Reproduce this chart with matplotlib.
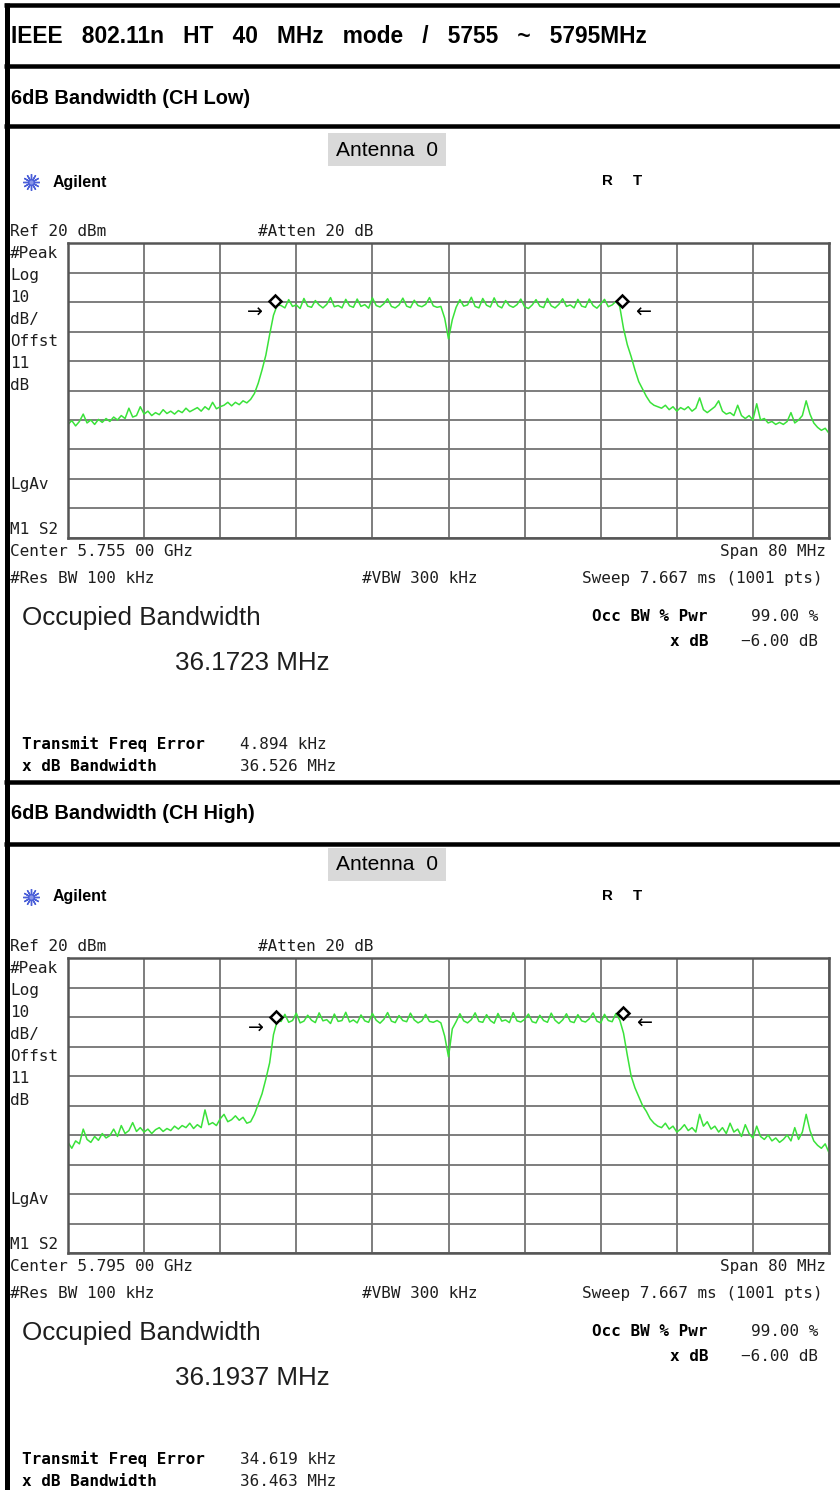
import numpy as np
import matplotlib
matplotlib.use("Agg")
import matplotlib.pyplot as plt
from matplotlib.patches import Rectangle

# ---------------- data ----------------
HEADER = "IEEE   802.11n   HT   40   MHz   mode   /   5755   ~   5795MHz"
SECTION_TITLES = ["6dB Bandwidth (CH Low)", "6dB Bandwidth (CH High)"]
CENTERS_MHZ = [5755.0, 5795.0]
SPAN_MHZ = 80.0
REF_DBM = 20.0
DB_PER_DIV = 10.0
CENTER_LABELS = ["Center 5.755 00 GHz", "Center 5.795 00 GHz"]
OCC_BW = ["36.1723 MHz", "36.1937 MHz"]
FREQ_ERR = ["4.894 kHz", "34.619 kHz"]
XDB_BW = ["36.526 MHz", "36.463 MHz"]

# trace levels (dBm), 201 points across the span
TRACE_LOW = [
    -41.5, -40.2, -42.0, -40.5, -38.0, -41.0, -40.0, -41.5, -39.8, -40.8,
    -39.5, -40.5, -39.0, -40.0, -38.5, -39.5, -36.0, -39.0, -38.5, -35.5,
    -38.0, -37.0, -38.5, -37.5, -38.2, -36.5, -37.8, -37.0, -38.0, -36.8,
    -37.5, -36.0, -37.2, -36.5, -35.8, -37.0, -35.5, -36.5, -34.0, -36.2,
    -35.5, -35.0, -34.0, -35.2, -34.0, -34.8, -33.5, -34.2, -33.0,
    -31.0, -27.5, -23.0, -18.0, -11.0, -4.5, -1.0,
    -1.2, -2.0, 0.8, -1.5, -1.0, -2.2, 1.2, -1.4, -1.8, 0.5,
    -1.0, -2.0, -0.8, 1.5, -1.6, -1.2, -2.0, 0.9, -1.3, -1.8,
    1.0, -1.5, -0.9, -2.1, 1.4, -1.2, -1.7, -0.6, 1.1, -1.5,
    -2.0, -1.0, 1.3, -1.4, -1.9, 0.6, -1.2, -1.6, -0.8, 1.5,
    -1.3, -1.8, -1.5, -5.5, -12.5, -6.0, -1.8, 0.8, -1.4, -1.0,
    1.6, -1.5, -2.0, 1.2, -1.1, -1.7, 1.4, -1.3, -2.0, 0.5,
    -1.2, -1.8, -0.9, 1.0, -1.6, -2.2, -1.0, 0.8, -1.4, -1.9,
    1.2, -1.3, -2.0, -0.8, 1.1, -1.5, -1.0, -2.0, 0.9, -1.4,
    -1.8, 1.0, -1.2, -2.1, -0.7, 0.9, -1.6, -1.0, 0.2,
    -1.5, -9.0, -14.5, -18.5, -23.0, -27.0, -29.5, -32.0, -34.0, -35.0, -35.5,
    -36.0, -35.0, -36.5, -35.5, -37.0, -35.8, -36.5, -35.5, -37.0, -36.0,
    -32.5, -36.5, -37.5, -36.5, -35.5, -33.5, -37.0, -38.0, -37.5, -38.5,
    -35.0, -38.5, -39.5, -38.5, -40.0, -34.5, -40.0, -39.5, -41.0, -40.5,
    -41.5, -40.8, -41.5, -40.5, -37.5, -41.0, -40.0, -38.5, -33.5, -38.0,
    -41.0, -42.5, -43.5, -42.8, -44.5,
]
TRACE_HIGH = [
    -42.5, -44.5, -42.0, -43.0, -38.0, -41.5, -42.5, -40.5, -41.8, -39.5,
    -41.0, -40.2, -38.0, -40.5, -36.8, -39.5, -38.5, -35.8, -38.8, -37.5,
    -39.0, -38.0, -39.5, -38.2, -37.5, -38.8, -37.8, -38.5, -37.0, -38.0,
    -36.8, -37.5, -36.0, -37.8, -36.5, -37.5, -31.5, -36.5, -35.8, -36.8,
    -34.5, -33.0, -35.5, -34.8, -33.5, -35.0, -34.0, -36.0, -35.5,
    -33.0, -29.5, -26.0, -21.0, -15.5, -6.0, -1.2,
    -1.5, 0.9, -1.8, -1.2, 1.3, -2.0, -1.4, 0.6, -1.1, -1.9,
    1.4, -1.3, -0.9, -2.2, 1.0, -1.5, -1.2, 1.6, -1.7, -1.0,
    -2.0, 0.7, -1.3, -1.8, 1.2, -1.1, -2.1, -0.8, 1.5, -1.4,
    -1.9, 0.5, -1.2, -1.6, 1.3, -1.0, -2.0, -1.3, 0.9, -1.5,
    -1.8, -1.2, -2.0, -6.5, -13.5, -4.0, -1.6, 1.1, -1.3, -2.0,
    -0.9, 1.4, -1.5, -1.8, 0.8, -1.2, -2.1, 1.2, -1.4, -1.0,
    -1.9, 1.5, -1.3, -1.7, -0.8, 1.0, -1.6, -2.0, 0.6, -1.2,
    -1.8, 1.3, -1.1, -2.2, -1.0, 1.1, -1.5, -1.9, 0.8, -1.3,
    -1.7, -0.6, 1.4, -1.4, -2.0, 0.9, -1.2, -1.6, 1.2,
    -1.0, -5.5, -13.0, -20.0, -24.0, -27.0, -30.0, -32.0, -34.5, -36.0, -37.0,
    -37.5, -36.0, -38.0, -37.0, -39.0, -38.0, -36.5, -38.5, -37.5, -39.0,
    -33.0, -37.0, -35.5, -38.0, -37.0, -39.0, -37.5, -39.5, -36.0, -39.0,
    -38.0, -40.5, -36.5, -39.5, -41.0, -37.0, -40.5, -41.5, -40.0, -42.0,
    -41.0, -42.5, -41.5, -40.0, -42.0, -37.5, -41.5, -39.0, -33.0, -38.5,
    -42.0, -43.5, -44.5, -43.0, -46.0,
]
TRACES = [TRACE_LOW, TRACE_HIGH]
MARKER_FREQS = [[5736.74, 5773.27], [5776.85, 5813.31]]
MARKER_LEVELS = [[0.2, 0.2], [0.0, 1.5]]

# ---------------- layout ----------------
W, H = 840, 1490
DPI = 100
fig = plt.figure(figsize=(W / DPI, H / DPI), dpi=DPI)
page = fig.add_axes([0, 0, 1, 1])
page.set_xlim(0, W)
page.set_ylim(H, 0)
page.axis("off")

def pt(px):
    return px * 72.0 / DPI

ARIAL = ["Liberation Sans", "DejaVu Sans"]
MONO = ["DejaVu Sans Mono"]
TXT = "#1e1e1e"

# borders
page.plot([6.5, 6.5], [3, H], color="black", lw=pt(5), solid_capstyle="butt")
for yb in (5, 65.5, 125.5, 782, 844):
    page.plot([4, W], [yb, yb], color="black", lw=pt(4.5), solid_capstyle="butt")

page.text(11, 43, HEADER, fontsize=pt(22.8), fontweight="bold",
          family=ARIAL, color="black", va="baseline")

OFFSET = 715
for k in range(2):
    oy = k * OFFSET
    page.text(11, 104 + oy, SECTION_TITLES[k], fontsize=pt(20),
              fontweight="bold", family=ARIAL, color="black", va="baseline")
    # Antenna label
    page.add_patch(Rectangle((328, 133 + oy), 118, 33, facecolor="#d9d9d9",
                             edgecolor="none"))
    page.text(387, 150 + oy, "Antenna  0", fontsize=pt(21), family=ARIAL,
              color="black", ha="center", va="center")
    # Agilent logo
    page.plot([31], [182 + oy], marker=(12, 2, 0), ms=12, mec="#4b5fd8",
              mew=1.0, ls="none")
    page.plot([31], [182 + oy], marker="o", ms=3, mfc="#8a96e8", mec="none",
              ls="none")
    page.text(53, 182 + oy, "Agilent", fontsize=pt(16), fontweight="bold",
              family=ARIAL, color="black", va="center")
    page.text(602, 181 + oy, "R", fontsize=pt(15), fontweight="bold",
              family=ARIAL, color="black", va="center")
    page.text(633, 181 + oy, "T", fontsize=pt(15), fontweight="bold",
              family=ARIAL, color="black", va="center")

    mono = dict(fontsize=pt(16), family=MONO, color=TXT, va="baseline")
    monob = dict(fontsize=pt(16), family=MONO, color="black", va="baseline",
                 fontweight="bold")
    page.text(10, 236 + oy, "Ref 20 dBm", **mono)
    page.text(258, 236 + oy, "#Atten 20 dB", **mono)
    for lab, yb in [("#Peak", 258), ("Log", 280), ("10", 302), ("dB/", 324),
                    ("Offst", 346), ("11", 368), ("dB", 390), ("LgAv", 489),
                    ("M1 S2", 534)]:
        page.text(10, yb + oy, lab, **mono)
    page.text(10, 556 + oy, CENTER_LABELS[k], **mono)
    page.text(826, 556 + oy, "Span 80 MHz", ha="right", **mono)
    page.text(10, 583 + oy, "#Res BW 100 kHz", **mono)
    page.text(362, 583 + oy, "#VBW 300 kHz", **mono)
    page.text(823, 583 + oy, "Sweep 7.667 ms (1001 pts)", ha="right", **mono)

    page.text(22, 625 + oy, "Occupied Bandwidth", fontsize=pt(26), family=ARIAL,
              color=TXT, va="baseline")
    page.text(175, 670 + oy, OCC_BW[k], fontsize=pt(26), family=ARIAL,
              color=TXT, va="baseline")
    page.text(708, 621 + oy, "Occ BW % Pwr", ha="right", **monob)
    page.text(818, 621 + oy, "99.00 %", ha="right", **mono)
    page.text(708, 646 + oy, "x dB", ha="right", **monob)
    page.text(818, 646 + oy, "\u22126.00 dB", ha="right", **mono)
    page.text(22, 749 + oy, "Transmit Freq Error", **monob)
    page.text(240, 749 + oy, FREQ_ERR[k], **mono)
    page.text(22, 771 + oy, "x dB Bandwidth", **monob)
    page.text(240, 771 + oy, XDB_BW[k], **mono)

    # spectrum axes
    top, bot = 243 + oy, 538 + oy
    ax = fig.add_axes([68 / W, 1 - bot / H, 761 / W, (bot - top) / H])
    f0 = CENTERS_MHZ[k] - SPAN_MHZ / 2
    f1 = CENTERS_MHZ[k] + SPAN_MHZ / 2
    lvl = np.array(TRACES[k])
    freqs = np.linspace(f0, f1, len(lvl))
    ax.set_xlim(f0, f1)
    ax.set_ylim(REF_DBM - 10 * DB_PER_DIV, REF_DBM)
    ax.set_xticks(np.linspace(f0, f1, 11))
    ax.set_yticks(np.linspace(REF_DBM - 10 * DB_PER_DIV, REF_DBM, 11))
    ax.grid(True, color="#737373", lw=1.3)
    ax.set_axisbelow(True)
    ax.tick_params(length=0, labelbottom=False, labelleft=False)
    for s in ax.spines.values():
        s.set_color("#555555")
        s.set_linewidth(1.8)
    ax.plot(freqs, lvl, color="#3ae23a", lw=1.1)
    mf, ml = MARKER_FREQS[k], MARKER_LEVELS[k]
    ax.plot(mf, ml, ls="none", marker="D", ms=6, mfc="white", mec="black",
            mew=1.8, zorder=5)
    ax.annotate("\u2192", xy=(mf[0], ml[0]), xytext=(-20, -11),
                textcoords="offset pixels", ha="center", va="center",
                fontsize=pt(19), family=["DejaVu Sans"], color="black")
    ax.annotate("\u2190", xy=(mf[1], ml[1]), xytext=(21, -11),
                textcoords="offset pixels", ha="center", va="center",
                fontsize=pt(19), family=["DejaVu Sans"], color="black")

fig.savefig("out.png", dpi=DPI)
